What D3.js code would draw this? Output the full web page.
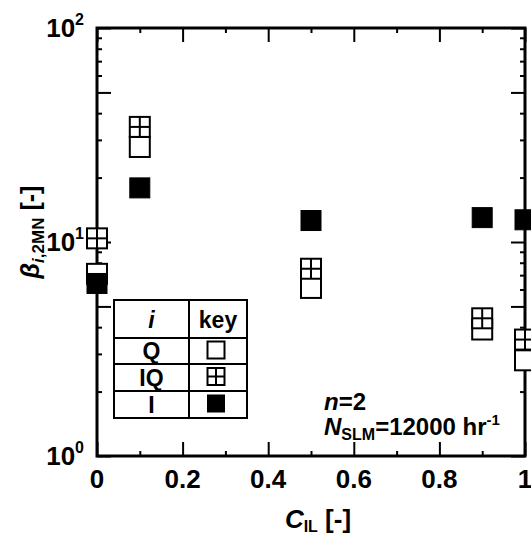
<!DOCTYPE html>
<html>
<head>
<meta charset="utf-8">
<script src="https://cdn.jsdelivr.net/npm/d3@7/dist/d3.min.js"></script>
<style>
  html, body { margin: 0; padding: 0; background: #fff; }
  svg { display: block; }
  text { font-family: "Liberation Sans", Arial, sans-serif; font-weight: bold; fill: #000; }
</style>
</head>
<body>
<script>
// ---- data ----
const categories = ["Q", "IQ", "I"];
const cil = [0, 0.1, 0.5, 0.9, 1];
const betaQ = [7.1, 27.8, 6.1, 3.9, 2.8];
const betaIQ = [10.4, 34.5, 7.5, 4.4, 3.5];
const betaI = [6.4, 17.9, 12.6, 13.0, 12.7];
const xMajorTicks = [0, 0.2, 0.4, 0.6, 0.8, 1];
const xMinorTicks = [0.1, 0.3, 0.5, 0.7, 0.9];
const xTickLabels = ["0", "0.2", "0.4", "0.6", "0.8", "1"];
const yMajorTicks = [1, 10, 100];
const yMidTicks = [5, 50];
const yMinorTicks = [2, 3, 4, 6, 7, 8, 9, 20, 30, 40, 60, 70, 80, 90];
const yTickExponents = ["0", "1", "2"];

// ---- layout ----
const W = 531, H = 534;
const L = 97, R = 525, T = 28, B = 456;

const svg = d3.select("body").append("svg").attr("width", W).attr("height", H);

const x = d3.scaleLinear().domain([0, 1]).range([L, R]);
const y = d3.scaleLog().domain([1, 100]).range([B, T]);

function styleTicks(g) {
  g.select(".domain").remove();
  g.selectAll(".tick line").attr("stroke", "#000").attr("stroke-width", 2);
  g.selectAll(".tick text").remove();
}

// ticks (inward) on all four sides
const axes = [
  [d3.axisBottom, `translate(0,${B})`, x, xMajorTicks, 14],
  [d3.axisBottom, `translate(0,${B})`, x, xMinorTicks, 5],
  [d3.axisTop, `translate(0,${T})`, x, xMajorTicks, 14],
  [d3.axisTop, `translate(0,${T})`, x, xMinorTicks, 5],
  [d3.axisLeft, `translate(${L},0)`, y, yMajorTicks.concat(yMidTicks), 14],
  [d3.axisLeft, `translate(${L},0)`, y, yMinorTicks, 5],
  [d3.axisRight, `translate(${R},0)`, y, yMajorTicks.concat(yMidTicks), 14],
  [d3.axisRight, `translate(${R},0)`, y, yMinorTicks, 5],
];
axes.forEach(([fn, tr, sc, vals, len]) => {
  svg.append("g").attr("transform", tr)
    .call(fn(sc).tickValues(vals).tickSizeInner(-len).tickSizeOuter(0).tickFormat(""))
    .call(styleTicks);
});

// frame
svg.append("rect").attr("x", L).attr("y", T).attr("width", R - L).attr("height", B - T)
  .attr("fill", "none").attr("stroke", "#000").attr("stroke-width", 3);

// x tick labels
svg.append("g").selectAll("text").data(xMajorTicks).join("text")
  .attr("x", d => x(d)).attr("y", B + 32)
  .attr("text-anchor", "middle").attr("font-size", 26)
  .text((d, i) => xTickLabels[i]);

// y tick labels
const yl = svg.append("g").selectAll("text").data(yMajorTicks).join("text")
  .attr("x", L - 13).attr("y", d => y(d) + 9)
  .attr("text-anchor", "end").attr("font-size", 26);
yl.append("tspan").text("10");
yl.append("tspan").attr("font-size", 16).attr("dy", -12).text((d, i) => yTickExponents[i]);

// axis titles
const xt = svg.append("text").attr("x", 318).attr("y", 528).attr("text-anchor", "middle").attr("font-size", 26);
xt.append("tspan").attr("font-style", "italic").text("C");
xt.append("tspan").attr("font-size", 16).attr("dy", 4).text("IL");
xt.append("tspan").attr("dy", -4).text(" [-]");

const yt = svg.append("text").attr("transform", `translate(39,${(T + B) / 2 - 10}) rotate(-90)`)
  .attr("text-anchor", "middle").attr("font-size", 25);
yt.append("tspan").attr("font-style", "italic").text("β");
const ysub = yt.append("tspan").attr("font-size", 17).attr("dy", 5);
ysub.append("tspan").attr("font-style", "italic").text("i");
ysub.append("tspan").text(",2MN");
yt.append("tspan").attr("dy", -5).text(" [-]");

// annotation
const a1 = svg.append("text").attr("x", 324).attr("y", 410).attr("font-size", 24);
a1.append("tspan").attr("font-style", "italic").text("n");
a1.append("tspan").text("=2");
const a2 = svg.append("text").attr("x", 324).attr("y", 435).attr("font-size", 24);
a2.append("tspan").attr("font-style", "italic").text("N");
a2.append("tspan").attr("font-size", 16).attr("dy", 5).text("SLM");
a2.append("tspan").attr("dy", -5).text("=12000 hr");
a2.append("tspan").attr("font-size", 15).attr("dy", -10).text("-1");

// markers
const S = 20;
function drawMarker(g, kind, cx, cy, s) {
  if (kind === "I") {
    g.append("rect").attr("x", cx - s / 2).attr("y", cy - s / 2).attr("width", s).attr("height", s)
      .attr("fill", "#000").attr("stroke", "#000").attr("stroke-width", 1);
  } else {
    g.append("rect").attr("x", cx - s / 2).attr("y", cy - s / 2).attr("width", s).attr("height", s)
      .attr("fill", "#fff").attr("stroke", "#000").attr("stroke-width", 2);
    if (kind === "IQ") {
      g.append("line").attr("x1", cx - s / 2).attr("x2", cx + s / 2).attr("y1", cy).attr("y2", cy)
        .attr("stroke", "#000").attr("stroke-width", 2);
      g.append("line").attr("x1", cx).attr("x2", cx).attr("y1", cy - s / 2).attr("y2", cy + s / 2)
        .attr("stroke", "#000").attr("stroke-width", 2);
    }
  }
}
const seriesValues = [betaQ, betaIQ, betaI];
const mg = svg.append("g");
categories.forEach((c, k) => {
  seriesValues[k].forEach((v, i) => drawMarker(mg, c, x(cil[i]), y(v), S));
});

// legend table
const lg = svg.append("g");
const tL = 114, tR = 247, tM = 189;
const rowsY = [300, 338, 364, 391, 418];
lg.append("rect").attr("x", tL).attr("y", rowsY[0]).attr("width", tR - tL).attr("height", rowsY[4] - rowsY[0])
  .attr("fill", "#fff").attr("stroke", "#000").attr("stroke-width", 2);
lg.append("line").attr("x1", tM).attr("x2", tM).attr("y1", rowsY[0]).attr("y2", rowsY[4]).attr("stroke", "#000").attr("stroke-width", 2);
rowsY.slice(1, 4).forEach(ry => {
  lg.append("line").attr("x1", tL).attr("x2", tR).attr("y1", ry).attr("y2", ry).attr("stroke", "#000").attr("stroke-width", 2);
});
lg.append("text").attr("x", (tL + tM) / 2).attr("y", 328).attr("text-anchor", "middle")
  .attr("font-size", 23).attr("font-style", "italic").text("i");
lg.append("text").attr("x", (tM + tR) / 2).attr("y", 328).attr("text-anchor", "middle")
  .attr("font-size", 23).text("key");
categories.forEach((c, k) => {
  const cy = (rowsY[k + 1] + rowsY[k + 2]) / 2;
  lg.append("text").attr("x", (tL + tM) / 2).attr("y", cy + 8).attr("text-anchor", "middle")
    .attr("font-size", 23).text(c);
  drawMarker(lg, c, 216, cy - 1, 17);
});
</script>
</body>
</html>
